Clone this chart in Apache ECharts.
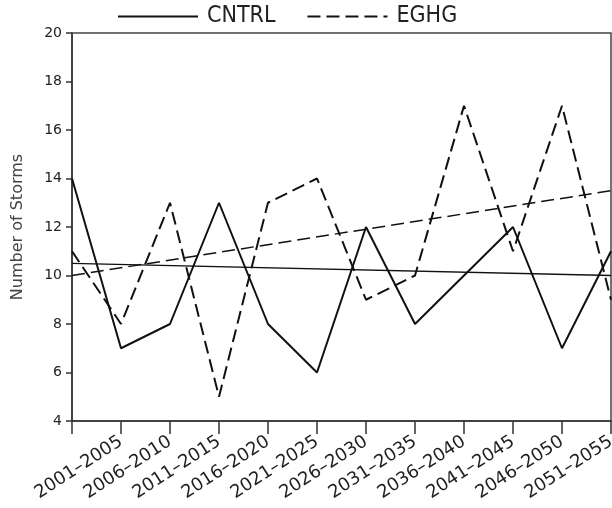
<!DOCTYPE html>
<html><head><meta charset="utf-8">
<script src="https://cdn.jsdelivr.net/npm/echarts@6/dist/echarts.min.js"></script>
<style>html,body{margin:0;padding:0;background:#fff}#c{width:612px;height:508px}</style>
</head><body><div id="c"></div>
<script>
// x positions: first point unlabeled, then the 11 five-year periods
const categories = ['', '2001–2005', '2006–2010', '2011–2015', '2016–2020', '2021–2025', '2026–2030', '2031–2035', '2036–2040', '2041–2045', '2046–2050', '2051–2055'];
const cntrl = [14, 7, 8, 13, 8, 6, 12, 8, 10, 12, 7, 11];
const eghg  = [11, 8, 13, 5, 13, 14, 9, 10, 17, 11, 17, 9];
const cntrlTrendEnds = [10.5, 10.0];
const eghgTrendEnds  = [10.0, 13.5];
const yTicks = [4, 6, 8, 10, 12, 14, 16, 18, 20];

const last = categories.length - 1;
const trend = ends => categories.map((c, i) => i === 0 ? ends[0] : (i === last ? ends[1] : null));
const DASH = [13, 6];
const narrow = '"Liberation Sans Narrow", "DejaVu Sans Condensed", "Liberation Sans", sans-serif';

const chart = echarts.init(document.getElementById('c'), null, {renderer: 'canvas'});
chart.setOption({
  animation: false,
  backgroundColor: '#fff',
  grid: {left: 72, right: 1, top: 33, bottom: 87, outerBoundsMode: 'none', containLabel: false,
         show: true, borderColor: '#444', borderWidth: 1.5, backgroundColor: 'transparent'},
  legend: {
    data: ['CNTRL', 'EGHG'],
    left: 117, top: 5, padding: 0,
    itemWidth: 80, itemHeight: 20, itemGap: 31,
    itemStyle: {opacity: 0},
    textStyle: {fontFamily: narrow, fontSize: 23, color: '#222', padding: [0, 0, 0, 4]}
  },
  xAxis: {
    type: 'category', data: categories, boundaryGap: false,
    axisLine: {lineStyle: {color: '#333', width: 1.5}},
    axisTick: {show: true, inside: false, length: 13, alignWithLabel: true, interval: 0, lineStyle: {color: '#333', width: 1.5}},
    axisLabel: {interval: 0, rotate: 33, margin: 19, fontFamily: '"DejaVu Sans", sans-serif', fontSize: 18, color: '#222'},
    splitLine: {show: false}
  },
  yAxis: {
    type: 'value', min: yTicks[0], max: yTicks[yTicks.length - 1], interval: 2,
    name: 'Number of Storms', nameLocation: 'middle', nameGap: 46,
    nameTextStyle: {fontFamily: '"DejaVu Sans", sans-serif', fontSize: 16, color: '#444'},
    axisLine: {show: true, lineStyle: {color: '#333', width: 1.5}},
    axisTick: {show: true, length: 6, lineStyle: {color: '#333', width: 1.5}},
    axisLabel: {margin: 10, fontFamily: '"DejaVu Sans", sans-serif', fontSize: 14, color: '#222'},
    splitLine: {show: false}
  },
  series: [
    {name: 'CNTRL', type: 'line', data: cntrl, symbol: 'none', lineStyle: {color: '#111', width: 2, type: 'solid'}, itemStyle: {color: '#111'}},
    {name: 'EGHG', type: 'line', data: eghg, symbol: 'none', lineStyle: {color: '#111', width: 2, type: DASH}, itemStyle: {color: '#111'}},
    {name: 'CNTRL trend', type: 'line', data: trend(cntrlTrendEnds), connectNulls: true, symbol: 'none', lineStyle: {color: '#111', width: 1.5, type: 'solid'}},
    {name: 'EGHG trend', type: 'line', data: trend(eghgTrendEnds), connectNulls: true, symbol: 'none', lineStyle: {color: '#111', width: 1.5, type: DASH}}
  ]
});
</script></body></html>
